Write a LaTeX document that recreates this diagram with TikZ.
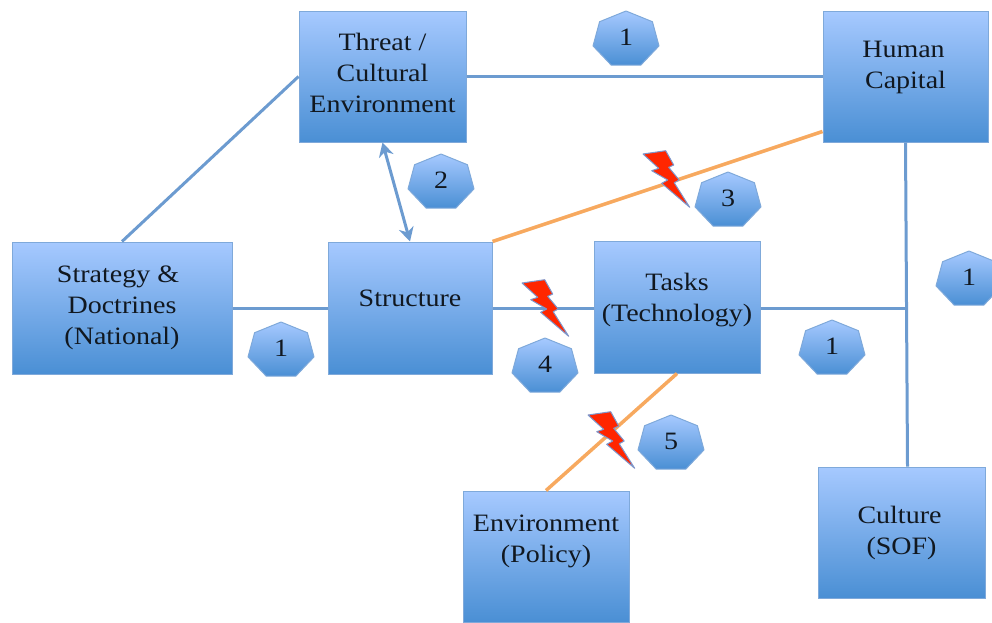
\documentclass[tikz,border=0pt]{standalone}
\usepackage{fontspec}
\usetikzlibrary{arrows.meta}
\setmainfont{Liberation Serif}[FakeStretch=1.12]
\definecolor{boxtop}{HTML}{A6C9FF}
\definecolor{boxbot}{HTML}{4A8FD4}
\definecolor{boxedge}{HTML}{7FA9DA}
\definecolor{linkblue}{HTML}{6C9BD0}
\definecolor{linkorange}{HTML}{F7A95F}
\definecolor{boltred}{HTML}{FF2600}
\definecolor{boltedge}{HTML}{7D97CC}
\definecolor{ink}{HTML}{111820}
\tikzset{
  fillgrad/.style={top color=boxtop,bottom color=boxbot,draw=boxedge,line width=1pt},
  blockbox/.style={fillgrad,rectangle,inner sep=0pt,align=center,text=ink,font=\fontsize{25}{31}\selectfont},
  badgetext/.style={text=ink,inner sep=0pt,font=\fontsize{25}{30}\selectfont},
  bluelink/.style={draw=linkblue,line width=3pt},
  orangelink/.style={draw=linkorange,line width=3.5pt},
  boltshape/.style={fill=boltred,draw=boltedge,line width=1pt,line join=round}
}
% centre x, top y, label, name
\newcommand{\heptbadge}[4]{%
  \path[fillgrad,line join=round]
    (#1,#2) -- ++(26.4,10.7) -- ++(6.6,24.2) -- ++(-18.3,19.3)
    -- ++(-29.4,0) -- ++(-18.3,-19.3) -- ++(6.6,-24.2) -- cycle;
  \node[badgetext] (#4) at (#1,#2+26) {#3};
}
\newcommand{\boltat}[2]{%
  \path[boltshape] (#1,#2) -- ++(22.7,-3.3) -- ++(8,14.3) -- ++(-5,2.3)
    -- ++(10.5,12.7) -- ++(-5,2.7) -- ++(15.5,24.6) -- ++(-28,-24)
    -- ++(6,-3.3) -- ++(-16,-9.3) -- ++(7,-2.4) -- cycle;
}
\begin{document}
\begin{tikzpicture}[x=1pt,y=-1pt]
\useasboundingbox (0,0) rectangle (992,622);
\node[blockbox,minimum width=167pt,minimum height=131pt] (threat) at (382.5,76.5) {Threat /\\Cultural\\Environment\\[-23pt]};
\node[blockbox,minimum width=165pt,minimum height=131pt] (human) at (905.5,76.5) {Human\hspace*{4pt}\\Capital\hspace*{4pt}\\[-8pt]};
\node[blockbox,minimum width=220pt,minimum height=132pt] (strategy) at (122,308) {Strategy \&\hspace*{8pt}\\Doctrines\hspace*{8pt}\\(National)\hspace*{8pt}\\[-25pt]};
\node[blockbox,minimum width=164pt,minimum height=132pt] (structure) at (410,308) {Structure\\[-12pt]};
\node[blockbox,minimum width=166pt,minimum height=132pt] (tasks) at (677,307) {Tasks\\(Technology)\\[-11pt]};
\node[blockbox,minimum width=166pt,minimum height=131pt] (env) at (546,556.5) {Environment\\(Policy)\\[5pt]};
\node[blockbox,minimum width=167pt,minimum height=131pt] (culture) at (901.5,532.5) {Culture\hspace*{4pt}\\(SOF)\hspace*{4pt}\\[-27pt]};
\coordinate (junction) at (907,308);
\draw[bluelink] (threat.west) -- (strategy.north);
\draw[bluelink] (threat.east) -- (human.west);
\draw[bluelink,{Stealth[length=14pt,width=15pt]}-{Stealth[length=14pt,width=15pt]}] (threat.south) -- (structure.north);
\draw[bluelink] (strategy.east) -- (structure.west);
\draw[bluelink] (structure.east) -- (structure.east -| tasks.west);
\draw[bluelink] (tasks.east |- junction) -- (junction);
\draw[bluelink] (human.south) -- ([xshift=6pt]culture.north);
\draw[orangelink] (structure.north east) -- ([yshift=11pt]human.south west);
\draw[orangelink] (tasks.south) -- (env.north);
\heptbadge{626}{11}{1}{ba}
\heptbadge{441}{154}{2}{bb}
\heptbadge{728}{172}{3}{bc}
\heptbadge{545}{338}{4}{bd}
\heptbadge{671}{415}{5}{be}
\heptbadge{281}{322}{1}{bf}
\heptbadge{832}{320}{1}{bg}
\heptbadge{969}{251}{1}{bh}
\boltat{643}{154}
\boltat{522}{283}
\boltat{588}{415}
\end{tikzpicture}
\end{document}
